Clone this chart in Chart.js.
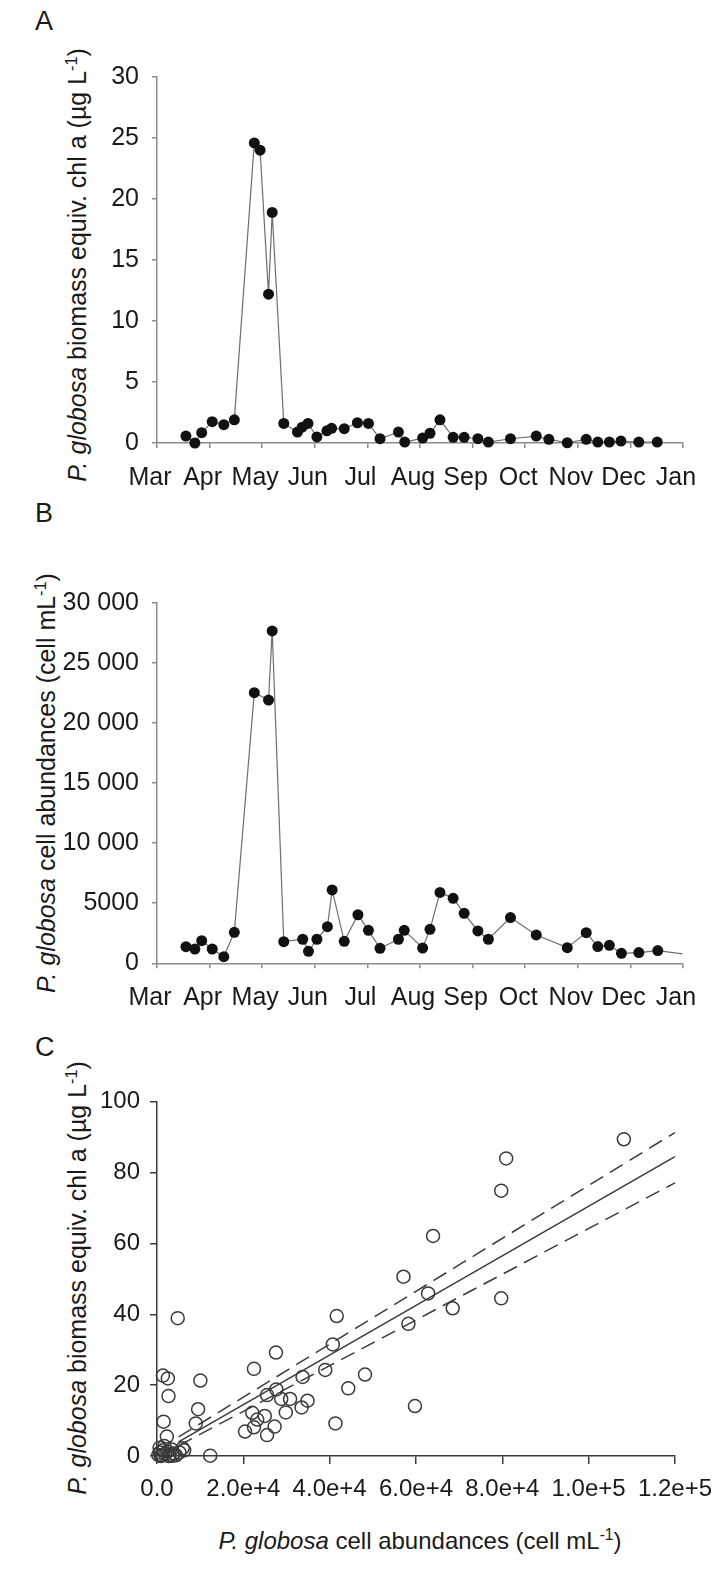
<!DOCTYPE html>
<html>
<head>
<meta charset="utf-8">
<script src="https://cdn.jsdelivr.net/npm/chart.js@4.4.1/dist/chart.umd.min.js"></script>
<style>
  html, body { margin: 0; padding: 0; background: #fff; }
  #page { position: relative; width: 723px; height: 1571px; overflow: hidden; font-family: "Liberation Sans", Arial, sans-serif; color: #1a1a1a; }
  canvas { position: absolute; left: 0; }
  .letter { position: absolute; font-size: 27px; line-height: 1; }
  .ytitle { position: absolute; white-space: nowrap; font-size: 25px; line-height: 1; transform: translate(-50%, -50%) rotate(-90deg); }
  .xtitle { position: absolute; white-space: nowrap; font-size: 24px; line-height: 1; transform: translate(-50%, -50%); }
  sup { font-size: 0.65em; vertical-align: 0.55em; line-height: 0; }
</style>
</head>
<body>
<div id="page">
  <div class="letter" style="left:35px; top:8px;">A</div>
  <div class="letter" style="left:35px; top:500px;">B</div>
  <div class="letter" style="left:35px; top:1034px;">C</div>

  <div class="ytitle" style="left:77px; top:265px;"><i>P. globosa</i> biomass equiv. chl a (µg L<sup>-1</sup>)</div>
  <div class="ytitle" style="left:46px; top:783px;"><i>P. globosa</i> cell abundances (cell mL<sup>-1</sup>)</div>
  <div class="ytitle" style="left:77px; top:1278px;"><i>P. globosa</i> biomass equiv. chl a (µg L<sup>-1</sup>)</div>
  <div class="xtitle" style="left:420px; top:1541px;"><i>P. globosa</i> cell abundances (cell mL<sup>-1</sup>)</div>

  <canvas id="chartA" width="723" height="500" style="top:0px; width:723px; height:500px;"></canvas>
  <canvas id="chartB" width="723" height="540" style="top:500px; width:723px; height:540px;"></canvas>
  <canvas id="chartC" width="723" height="531" style="top:1040px; width:723px; height:531px;"></canvas>
</div>

<script>
// month axis: 3 = Mar ... 13 = Jan
const monthTicks = ['Mar', 'Apr', 'May', 'Jun', 'Jul', 'Aug', 'Sep', 'Oct', 'Nov', 'Dec', 'Jan'];

// panel A: biomass equiv. chl a
const chlDates = [3.55, 3.72, 3.85, 4.05, 4.27, 4.47, 4.85, 4.96, 5.12, 5.19,
  5.41, 5.67, 5.76, 5.87, 6.04, 6.23, 6.32, 6.56, 6.81, 7.02,
  7.24, 7.59, 7.71, 8.05, 8.19, 8.38, 8.63, 8.84, 9.10, 9.30,
  9.72, 10.21, 10.45, 10.80, 11.16, 11.38, 11.60, 11.82, 12.16, 12.51];
const chlValues = [0.57, 0.0, 0.85, 1.75, 1.5, 1.9, 24.6, 24.0, 12.2, 18.9,
  1.6, 0.9, 1.3, 1.6, 0.5, 1.0, 1.2, 1.17, 1.66, 1.6,
  0.35, 0.9, 0.08, 0.4, 0.8, 1.9, 0.47, 0.47, 0.35, 0.08,
  0.35, 0.57, 0.3, 0.02, 0.3, 0.08, 0.08, 0.16, 0.08, 0.08];
const chlTicks = ['0', '5', '10', '15', '20', '25', '30'];

// panel B: cell abundances (last value has no marker)
const cellDates = [3.55, 3.72, 3.85, 4.05, 4.27, 4.47, 4.85, 5.12, 5.19, 5.41,
  5.77, 5.88, 6.04, 6.24, 6.33, 6.56, 6.82, 7.02, 7.24, 7.59,
  7.70, 8.05, 8.19, 8.38, 8.63, 8.84, 9.10, 9.30, 9.72, 10.21,
  10.80, 11.16, 11.38, 11.60, 11.83, 12.16, 12.52, 12.99];
const cellValues = [1380, 1190, 1880, 1190, 550, 2580, 22510, 21900, 27650, 1800,
  2000, 1000, 2000, 3050, 6100, 1830, 4040, 2740, 1250, 2000,
  2740, 1270, 2830, 5900, 5410, 4160, 2690, 2000, 3800, 2360,
  1300, 2550, 1390, 1500, 830, 890, 1060, 780];
const cellTicks = ['0', '5000', '10 000', '15 000', '20 000', '25 000', '30 000'];

// panel C: chl a vs cell abundance
const scatterCells = [4800, 1370, 2510, 2660, 1520, 2280, 10050, 9520, 8980, 5940, 12330,
  300, 700, 1100, 1400, 1900, 2400, 2900, 3400, 3900, 4400, 5200, 6300, 600, 1700, 900, 2700, 3600,
  22460, 27560, 25500, 27640, 28780, 30830, 29840, 33730, 33500, 34870,
  22080, 23220, 24970, 20400, 22460, 27250, 25500,
  38980, 40730, 41640, 41340, 44310, 48190,
  57100, 62810, 58240, 63950, 59760, 108160, 80890, 79750, 68510, 79750];
const scatterChl = [38.9, 22.7, 21.9, 16.9, 9.7, 5.5, 21.3, 13.2, 9.2, 2.2, 0.1,
  0.3, 1.0, 0.2, 1.6, 0.6, 1.3, 0.3, 1.8, 0.7, 0.2, 1.0, 1.6, 2.3, 2.8, 0.0, 0.0, 0.1,
  24.6, 29.2, 17.2, 18.8, 16.1, 16.1, 12.3, 22.3, 13.7, 15.6,
  12.2, 10.3, 11.3, 6.9, 8.1, 8.3, 5.9,
  24.3, 31.5, 39.5, 9.2, 19.1, 23.0,
  50.6, 45.9, 37.3, 62.1, 14.1, 89.4, 84.0, 74.9, 41.7, 44.5];
const fitX = [5000, 120000];
const fitY = [4.0, 84.5];
const fitUpper = [5.4, 91.3];
const fitLower = [2.9, 77.1];
const cellTicksC = ['0.0', '2.0e+4', '4.0e+4', '6.0e+4', '8.0e+4', '1.0e+5', '1.2e+5'];
const chlTicksC = ['0', '20', '40', '60', '80', '100'];

const FONT = '"Liberation Sans", Arial, sans-serif';
const TXT = '#1a1a1a';

function pairs(xs, ys) {
  return xs.map((x, i) => ({ x: x, y: ys[i] }));
}

function monthAxis(height) {
  return {
    type: 'linear', min: 3, max: 13,
    afterFit: (s) => { s.height = height; },
    border: { color: '#8c8c8c', width: 1.5 },
    grid: { drawOnChartArea: false, drawTicks: true, tickLength: 5, color: '#8c8c8c', lineWidth: 1.5 },
    ticks: {
      stepSize: 1, autoSkip: false, maxRotation: 0, padding: 15, labelOffset: -7,
      color: TXT, font: { family: FONT, size: 25 },
      callback: (v) => monthTicks[Math.round(v) - 3]
    }
  };
}

function timeSeries(id, xs, ys, yMax, step, tickLabels, top, xHeight) {
  new Chart(document.getElementById(id), {
    type: 'line',
    data: {
      datasets: [{
        data: pairs(xs, ys),
        borderColor: '#6e6e6e',
        borderWidth: 1.2,
        pointRadius: ys.map((v, i) => (id === 'chartB' && i === ys.length - 1) ? 0 : 5.5),
        pointBackgroundColor: '#111',
        pointBorderColor: '#111',
        pointBorderWidth: 0,
        tension: 0,
        clip: false
      }]
    },
    options: {
      responsive: false,
      animation: false,
      layout: { padding: { top: top, right: 40, bottom: 0, left: 0 } },
      plugins: { legend: { display: false }, tooltip: { enabled: false } },
      scales: {
        x: monthAxis(xHeight),
        y: {
          min: 0, max: yMax,
          afterFit: (s) => { s.width = 157; },
          border: { color: '#8c8c8c', width: 1.5 },
          grid: { drawOnChartArea: false, drawTicks: true, tickLength: 5, color: '#8c8c8c', lineWidth: 1.5 },
          ticks: {
            stepSize: step, padding: 13, color: TXT, font: { family: FONT, size: 25 },
            callback: (v) => tickLabels[Math.round(v / step)]
          }
        }
      }
    }
  });
}

timeSeries('chartA', chlDates, chlValues, 30, 5, chlTicks, 77, 57);
timeSeries('chartB', cellDates, cellValues, 30000, 5000, cellTicks, 102.7, 76.7);

new Chart(document.getElementById('chartC'), {
  type: 'scatter',
  data: {
    datasets: [
      {
        data: pairs(scatterCells, scatterChl),
        pointRadius: 6.5,
        pointBackgroundColor: 'rgba(0,0,0,0)',
        pointBorderColor: '#3a3a3a',
        pointBorderWidth: 1.5,
        clip: false
      },
      {
        data: pairs(fitX, fitY), showLine: true, pointRadius: 0,
        borderColor: '#3a3a3a', borderWidth: 1.5, clip: false
      },
      {
        data: pairs(fitX, fitUpper), showLine: true, pointRadius: 0,
        borderColor: '#3a3a3a', borderWidth: 1.5, borderDash: [15, 8], clip: false
      },
      {
        data: pairs(fitX, fitLower), showLine: true, pointRadius: 0,
        borderColor: '#3a3a3a', borderWidth: 1.5, borderDash: [15, 8], clip: false
      }
    ]
  },
  options: {
    responsive: false,
    animation: false,
    layout: { padding: { top: 61.7, right: 40, bottom: 0, left: 0 } },
    plugins: { legend: { display: false }, tooltip: { enabled: false } },
    scales: {
      x: {
        type: 'linear', min: 0, max: 120000,
        afterFit: (s) => { s.height = 115; },
        border: { color: '#3a3a3a', width: 1.5 },
        grid: { drawOnChartArea: false, drawTicks: true, tickLength: 8, color: '#3a3a3a', lineWidth: 1.5 },
        ticks: {
          stepSize: 20000, autoSkip: false, maxRotation: 0, padding: 11,
          color: TXT, font: { family: FONT, size: 24 },
          callback: (v) => cellTicksC[Math.round(v / 20000)]
        }
      },
      y: {
        min: 0, max: 100,
        afterFit: (s) => { s.width = 157; },
        border: { color: '#3a3a3a', width: 1.5 },
        grid: { drawOnChartArea: false, drawTicks: true, tickLength: 7, color: '#3a3a3a', lineWidth: 1.5 },
        ticks: {
          stepSize: 20, padding: 10, color: TXT, font: { family: FONT, size: 24 },
          callback: (v) => chlTicksC[Math.round(v / 20)]
        }
      }
    }
  }
});
</script>
</body>
</html>
